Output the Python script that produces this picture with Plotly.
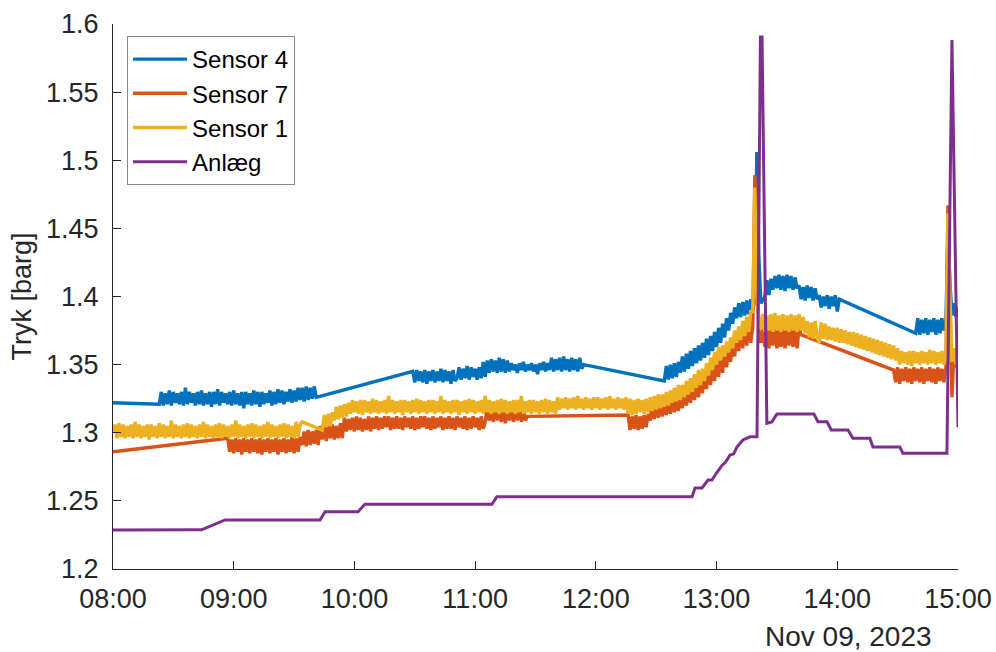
import numpy as np
import pandas as pd
import plotly.graph_objects as go

# Logged pressure on 2023-11-09, 08:00-15:00 (barg).
# Each sensor is stored as logged segments: a start time (minutes after 08:00)
# followed by one reading per minute. Gaps between segments have no readings.
day_start = pd.Timestamp("2023-11-09 08:00")

sensor4_start = [0, 23, 149, 274, 324, 399]
sensor4_values = [
    [1.322],
    [1.321, 1.330, 1.320, 1.329, 1.321, 1.331, 1.320, 1.330, 1.322, 1.329,
     1.321, 1.330, 1.320, 1.333, 1.321, 1.330, 1.322, 1.329, 1.320, 1.330,
     1.321, 1.331, 1.320, 1.329, 1.321, 1.330, 1.319, 1.330, 1.321, 1.332,
     1.320, 1.330, 1.322, 1.329, 1.321, 1.330, 1.320, 1.331, 1.321, 1.329,
     1.320, 1.330, 1.318, 1.330, 1.321, 1.329, 1.320, 1.331, 1.321, 1.330,
     1.319, 1.330, 1.321, 1.329, 1.322, 1.331, 1.320, 1.330, 1.321, 1.332,
     1.322, 1.331, 1.321, 1.330, 1.323, 1.332, 1.322, 1.331, 1.323, 1.333,
     1.324, 1.333, 1.323, 1.334, 1.324, 1.333, 1.325, 1.334, 1.326],
    [1.345, 1.337, 1.346, 1.338, 1.345, 1.337, 1.346, 1.336, 1.345, 1.338,
     1.346, 1.337, 1.345, 1.338, 1.347, 1.337, 1.346, 1.338, 1.345, 1.336,
     1.346, 1.338,
     1.340, 1.348, 1.339, 1.347, 1.340, 1.349, 1.339, 1.348, 1.341, 1.347,
     1.339, 1.348, 1.340, 1.352, 1.341,
     1.353, 1.344, 1.354, 1.345, 1.353, 1.344, 1.355, 1.345, 1.354, 1.344,
     1.353,
     1.345, 1.351, 1.346, 1.350, 1.344, 1.351, 1.346, 1.352, 1.345, 1.350,
     1.346, 1.351, 1.345, 1.350, 1.343, 1.351, 1.346, 1.352, 1.345, 1.351,
     1.346,
     1.355, 1.345, 1.354, 1.346, 1.355, 1.345, 1.356, 1.346, 1.354, 1.345,
     1.355, 1.346, 1.354, 1.345, 1.355, 1.347, 1.350],
    [1.338, 1.349, 1.339, 1.350, 1.340, 1.351, 1.341, 1.352,
     1.344, 1.356, 1.345, 1.358, 1.347, 1.360, 1.349, 1.362, 1.351, 1.364,
     1.353, 1.366, 1.355, 1.369, 1.357, 1.371, 1.360, 1.374, 1.363, 1.377,
     1.366, 1.380, 1.370, 1.384, 1.375, 1.388, 1.380, 1.392,
     1.384, 1.395, 1.385, 1.396, 1.386, 1.397, 1.387, 1.398,
     1.390, 1.398, 1.506, 1.430, 1.395],
    [1.400, 1.412, 1.401, 1.413,
     1.405, 1.415, 1.406, 1.416, 1.405, 1.415, 1.404, 1.416, 1.406, 1.415,
     1.405, 1.414, 1.406,
     1.408, 1.398, 1.407, 1.397, 1.408, 1.399, 1.407, 1.397, 1.406, 1.398,
     1.401, 1.392, 1.400, 1.393, 1.401, 1.391, 1.400, 1.393, 1.401, 1.389,
     1.398],
    [1.373, 1.384, 1.372, 1.383, 1.373, 1.384, 1.372, 1.383, 1.374, 1.384,
     1.372, 1.383, 1.373, 1.384, 1.375,
     1.382, 1.447, 1.410, 1.386, 1.395, 1.385, 1.392],
]

sensor7_start = [0, 57, 256, 323, 388]
sensor7_values = [
    [1.286],
    [1.296, 1.286, 1.295, 1.285, 1.296, 1.286, 1.295, 1.284, 1.296, 1.286,
     1.295, 1.285, 1.296, 1.286, 1.295, 1.285, 1.296, 1.284, 1.295, 1.286,
     1.296, 1.285, 1.295, 1.286, 1.296, 1.284, 1.295, 1.286, 1.296, 1.285,
     1.295, 1.286, 1.297, 1.285, 1.296, 1.286, 1.297,
     1.291, 1.301, 1.290, 1.302, 1.291, 1.301, 1.292, 1.302, 1.291,
     1.305, 1.295, 1.306, 1.294, 1.305, 1.296, 1.306, 1.295, 1.305, 1.296,
     1.307, 1.296,
     1.311, 1.301, 1.310, 1.302, 1.311, 1.301, 1.312, 1.302, 1.311, 1.301,
     1.310, 1.302, 1.312, 1.301, 1.311,
     1.303, 1.312, 1.302, 1.311, 1.303, 1.312, 1.304, 1.312, 1.302, 1.311,
     1.303, 1.312, 1.303, 1.311, 1.302, 1.312, 1.304, 1.311, 1.303, 1.312,
     1.302, 1.311, 1.303, 1.312, 1.304, 1.312, 1.303, 1.311, 1.302, 1.312,
     1.303, 1.311, 1.304, 1.312, 1.302, 1.311, 1.303, 1.312, 1.303, 1.311,
     1.302, 1.312, 1.304, 1.311, 1.303, 1.312, 1.302, 1.311, 1.303, 1.312,
     1.304, 1.311, 1.302, 1.312, 1.303,
     1.308, 1.318, 1.309, 1.317, 1.308, 1.318, 1.309, 1.317, 1.308, 1.318,
     1.307, 1.317, 1.309, 1.318, 1.308, 1.317, 1.309, 1.318, 1.308, 1.317,
     1.309, 1.312],
    [1.313, 1.302, 1.312, 1.303, 1.313, 1.302, 1.312, 1.303, 1.313, 1.304,
     1.314,
     1.309, 1.320, 1.310, 1.321, 1.311, 1.322, 1.312, 1.323, 1.313, 1.324,
     1.314, 1.325, 1.315, 1.326, 1.316,
     1.329, 1.318, 1.331, 1.320, 1.333, 1.322, 1.336, 1.324, 1.338, 1.326,
     1.342, 1.329, 1.345, 1.332, 1.348, 1.335, 1.351, 1.338, 1.354, 1.341,
     1.357, 1.344, 1.361, 1.348, 1.364, 1.352, 1.368, 1.356,
     1.373, 1.360, 1.376, 1.362, 1.379, 1.364, 1.382, 1.366,
     1.378, 1.489, 1.440, 1.372, 1.366],
    [1.377, 1.363, 1.376, 1.362, 1.377, 1.364, 1.378, 1.362, 1.376, 1.363,
     1.377, 1.362, 1.376, 1.364, 1.377, 1.363, 1.376, 1.362, 1.377, 1.372],
    [1.346, 1.337, 1.348, 1.336, 1.347, 1.338, 1.348, 1.337, 1.347, 1.336,
     1.348, 1.338, 1.347, 1.337, 1.348, 1.336, 1.347, 1.338, 1.348, 1.337,
     1.347, 1.336, 1.348, 1.338, 1.347, 1.337, 1.348,
     1.467, 1.400, 1.326, 1.360, 1.348, 1.355],
]

sensor1_start = [0, 104]
sensor1_values = [
    [1.300, 1.306, 1.296, 1.307, 1.297, 1.306, 1.296, 1.305, 1.297, 1.306,
     1.296, 1.308, 1.297, 1.306, 1.296, 1.305, 1.297, 1.306, 1.295, 1.306,
     1.297, 1.305, 1.296, 1.307, 1.297, 1.306, 1.296, 1.305, 1.297, 1.309,
     1.296, 1.306, 1.297, 1.305, 1.296, 1.306, 1.297, 1.307, 1.296, 1.306,
     1.297, 1.305, 1.296, 1.306, 1.297, 1.308, 1.296, 1.306, 1.297, 1.305,
     1.296, 1.306, 1.297, 1.307, 1.296, 1.306, 1.297, 1.305, 1.296, 1.306,
     1.297, 1.309, 1.296, 1.306, 1.297, 1.305, 1.296, 1.306, 1.297, 1.307,
     1.296, 1.306, 1.297, 1.305, 1.296, 1.306, 1.297, 1.308, 1.296, 1.306,
     1.297, 1.305, 1.296, 1.306, 1.297, 1.307, 1.296, 1.306, 1.297, 1.305,
     1.296, 1.308, 1.297, 1.306, 1.308],
    [1.302, 1.313, 1.304, 1.314, 1.305, 1.315,
     1.309, 1.319, 1.310, 1.320, 1.311, 1.321, 1.312, 1.322,
     1.314, 1.324, 1.315, 1.323, 1.314, 1.324, 1.313, 1.324, 1.315, 1.323,
     1.314, 1.325, 1.315, 1.324, 1.314, 1.323, 1.315, 1.324, 1.314, 1.327,
     1.315, 1.324, 1.314, 1.323, 1.315, 1.324, 1.313, 1.324, 1.315, 1.323,
     1.314, 1.324, 1.315, 1.325, 1.314, 1.324, 1.315, 1.323, 1.314, 1.324,
     1.315, 1.324, 1.314, 1.323, 1.315, 1.327, 1.314, 1.324, 1.315, 1.323,
     1.314, 1.324, 1.315, 1.324, 1.313, 1.323, 1.315, 1.324, 1.314, 1.325,
     1.315, 1.324, 1.314, 1.323, 1.315, 1.324, 1.314, 1.327, 1.315, 1.324,
     1.314, 1.323, 1.315, 1.324, 1.314, 1.325, 1.315, 1.324, 1.314, 1.323,
     1.315, 1.324, 1.314, 1.324, 1.315, 1.327, 1.314, 1.323, 1.315, 1.324,
     1.314, 1.324, 1.315, 1.323, 1.314, 1.324, 1.315, 1.325, 1.314, 1.324,
     1.315, 1.323, 1.314,
     1.326, 1.317, 1.325, 1.318, 1.326, 1.317, 1.325, 1.318, 1.326, 1.317,
     1.327, 1.318, 1.325, 1.317, 1.326, 1.318, 1.325, 1.317, 1.326, 1.318,
     1.326, 1.317, 1.325, 1.318, 1.326, 1.317, 1.327, 1.318, 1.325, 1.317,
     1.326, 1.318, 1.325, 1.317, 1.326,
     1.314, 1.325, 1.313, 1.324, 1.314, 1.325, 1.315, 1.324, 1.314, 1.325,
     1.315, 1.326, 1.316, 1.327, 1.317, 1.328,
     1.318, 1.328, 1.319, 1.330, 1.320, 1.331, 1.322, 1.333, 1.323, 1.335,
     1.324, 1.335, 1.326, 1.338, 1.328, 1.340, 1.330, 1.343, 1.333, 1.346,
     1.335, 1.347, 1.338, 1.351, 1.342, 1.355, 1.346, 1.359, 1.350, 1.363,
     1.353, 1.364, 1.356, 1.367, 1.359, 1.370, 1.362, 1.375,
     1.366, 1.378, 1.368, 1.382, 1.371, 1.385, 1.374, 1.390,
     1.388, 1.480, 1.400, 1.384, 1.376,
     1.387, 1.374, 1.386, 1.375, 1.387, 1.374, 1.388, 1.375, 1.386, 1.374,
     1.387, 1.375, 1.386, 1.374, 1.387, 1.375, 1.386, 1.374, 1.387, 1.375,
     1.385, 1.373,
     1.382, 1.370, 1.381, 1.369, 1.382, 1.370, 1.366, 1.381, 1.369, 1.380,
     1.368, 1.378,
     1.368, 1.377, 1.367, 1.377, 1.366, 1.376, 1.366, 1.375, 1.365, 1.374,
     1.364, 1.374, 1.363, 1.373, 1.362, 1.372, 1.361, 1.371, 1.360, 1.370,
     1.359, 1.369, 1.358, 1.368, 1.357, 1.367, 1.356, 1.366, 1.355, 1.365,
     1.354, 1.364, 1.353, 1.362,
     1.350, 1.360, 1.351, 1.359, 1.350, 1.360, 1.349, 1.360, 1.351, 1.359,
     1.350, 1.360, 1.351, 1.359, 1.350, 1.361, 1.351, 1.360, 1.350, 1.359,
     1.351, 1.360, 1.350,
     1.355, 1.461, 1.400, 1.352, 1.362, 1.350, 1.357],
]

# Plant (Anlæg) reading: stepwise signal, times in minutes after 08:00
anlaeg_minutes = [0, 44, 55.7, 102.9, 105.4, 121.8, 125.2, 188.4, 190.8,
                  287.8, 289.3, 292.8, 295.7, 297.7, 300.2, 302.7, 304.5,
                  306.7, 308.5, 310.1, 313.1, 316.6, 320.1, 321.8, 322.6,
                  325.0, 327.5, 330.0, 348.4, 350.4, 354.9, 357.0, 365.3,
                  367.8, 376.2, 377.7, 391.1, 392.6, 414.5, 417.0, 420.0]
anlaeg_values = [1.2286, 1.2288, 1.236, 1.236, 1.242, 1.242, 1.2475, 1.2475,
                 1.2531, 1.2531, 1.2595, 1.2595, 1.2653, 1.2653, 1.271,
                 1.276, 1.2785, 1.2837, 1.2845, 1.2895, 1.2947, 1.297, 1.297,
                 1.5905, 1.5905, 1.307, 1.308, 1.3138, 1.3138, 1.308, 1.308,
                 1.302, 1.302, 1.296, 1.296, 1.2895, 1.2895, 1.285, 1.285,
                 1.5883, 1.304]

series_names = ["Sensor 4", "Sensor 7", "Sensor 1", "Anlæg"]
series_colors = ["#0072BD", "#D95319", "#EDB120", "#7E2F8E"]
series_widths = [3.4, 3.4, 3.4, 3.0]

y_ticks = [1.2, 1.25, 1.3, 1.35, 1.4, 1.45, 1.5, 1.55, 1.6]
y_tick_text = ["1.2", "1.25", "1.3", "1.35", "1.4", "1.45", "1.5", "1.55", "1.6"]
x_tick_hours = [8, 9, 10, 11, 12, 13, 14, 15]


def segments_to_series(starts, segments):
    minutes, values = [], []
    for start, seg in zip(starts, segments):
        minutes.extend(start + i for i in range(len(seg)))
        values.extend(seg)
    return minutes, values


def to_time(minutes):
    return day_start + pd.to_timedelta(np.asarray(minutes, dtype=float), unit="min")


series = [
    segments_to_series(sensor4_start, sensor4_values),
    segments_to_series(sensor7_start, sensor7_values),
    segments_to_series(sensor1_start, sensor1_values),
    (anlaeg_minutes, anlaeg_values),
]

FONT = "Liberation Sans, Arial, Helvetica, sans-serif"
INK = "#262626"

fig = go.Figure()
for (mins, vals), name, color, width in zip(series, series_names,
                                            series_colors, series_widths):
    fig.add_trace(go.Scatter(
        x=to_time(mins), y=vals, mode="lines", name=name,
        line=dict(color=color, width=width, simplify=False),
    ))

x_ticks = [day_start + pd.Timedelta(hours=h - 8) for h in x_tick_hours]

fig.update_layout(
    width=996, height=652,
    margin=dict(l=113, r=38, t=24, b=83, autoexpand=False),
    paper_bgcolor="white", plot_bgcolor="white",
    font=dict(family=FONT, color=INK, size=26),
    showlegend=True,
    legend=dict(
        x=0.0166, y=0.978, xanchor="left", yanchor="top",
        bgcolor="white", bordercolor="#8a8a8a", borderwidth=1,
        font=dict(family=FONT, size=24, color="black"),
        itemwidth=54, tracegroupgap=0,
    ),
    xaxis=dict(
        range=[x_ticks[0], x_ticks[-1]],
        tickvals=x_ticks, tickformat="%H:%M",
        ticks="inside", ticklen=8, tickcolor=INK, tickwidth=1,
        showline=True, linecolor=INK, linewidth=1, mirror=False,
        showgrid=False, zeroline=False,
        tickfont=dict(family=FONT, size=27, color=INK),
        ticklabelstandoff=6,
    ),
    yaxis=dict(
        range=[1.2, 1.6],
        tickvals=y_ticks, ticktext=y_tick_text,
        ticks="inside", ticklen=8, tickcolor=INK, tickwidth=1,
        showline=True, linecolor=INK, linewidth=1, mirror=False,
        showgrid=False, zeroline=False,
        tickfont=dict(family=FONT, size=27, color=INK),
        ticklabelstandoff=8,
        title=dict(text="Tryk [barg]", font=dict(family=FONT, size=27, color=INK),
                   standoff=6),
    ),
    annotations=[dict(
        text="Nov 09, 2023", xref="paper", yref="paper",
        x=0.870, y=-0.123, xanchor="center", yanchor="middle",
        showarrow=False, font=dict(family=FONT, size=28, color=INK),
    )],
)

fig.write_html("out.html")
